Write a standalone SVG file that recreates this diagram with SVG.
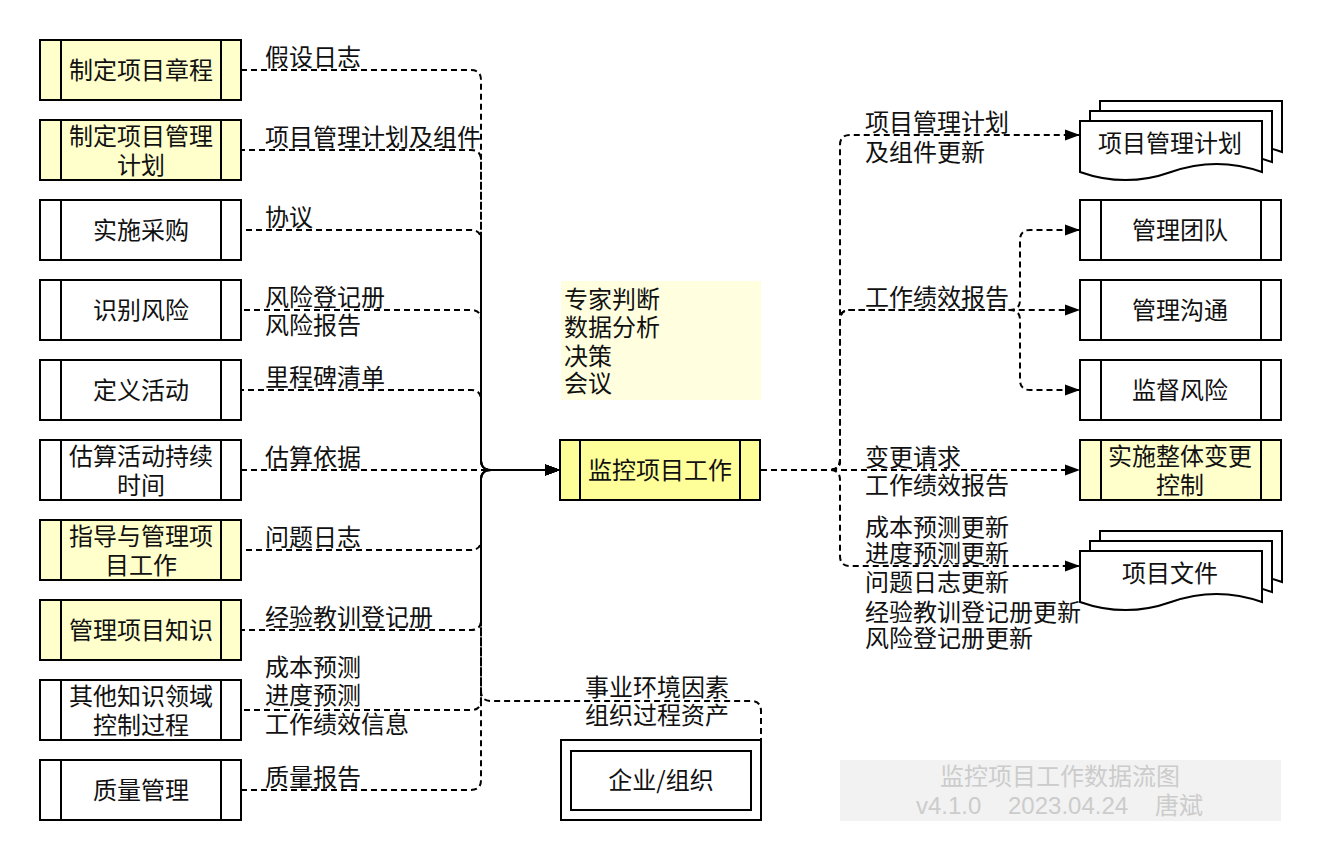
<svg xmlns="http://www.w3.org/2000/svg" width="1322" height="862" viewBox="0 0 1322 862">
<style>
  .box{stroke:#000;stroke-width:2;fill:#fff}
  .y1{fill:#FFFFCC}
  .y2{fill:#FFFF99}
  .ln{stroke:#000;stroke-width:2;fill:none}
  .c{stroke:#000;stroke-width:2;fill:none;stroke-dasharray:6 4;marker-end:url(#ar)}
  text{font-family:"Noto Sans CJK SC","Noto Sans",sans-serif;font-size:24px;fill:#111}
  .m{text-anchor:middle}
  .wm{fill:#CCCCCC;font-family:"Liberation Sans","Noto Sans CJK SC",sans-serif}
</style>
<defs>
  <marker id="ar" markerWidth="16" markerHeight="12" refX="15" refY="6" orient="auto" markerUnits="userSpaceOnUse">
    <path d="M0,0.5 L15,6 L0,11.5 Z" fill="#000"/>
  </marker>
</defs>
<rect width="1322" height="862" fill="#fff"/>

<g id="connectors">
  <path class="c" d="M241,70 H471 Q481,70 481,80 V460 Q481,470 491,470 H560"/>
  <path class="c" style="stroke-dashoffset:2" d="M241,150 H471 Q481,150 481,160 V460 Q481,470 491,470 H560"/>
  <path class="c" style="stroke-dashoffset:5" d="M241,230 H471 Q481,230 481,240 V460 Q481,470 491,470 H560"/>
  <path class="c" style="stroke-dashoffset:7" d="M241,310 H471 Q481,310 481,320 V460 Q481,470 491,470 H560"/>
  <path class="c" style="stroke-dashoffset:3" d="M241,390 H471 Q481,390 481,400 V460 Q481,470 491,470 H560"/>
  <path class="c" d="M241,470 H560"/>
  <path class="c" style="stroke-dashoffset:5" d="M241,550 H471 Q481,550 481,540 V480 Q481,470 491,470 H560"/>
  <path class="c" style="stroke-dashoffset:2" d="M241,630 H471 Q481,630 481,620 V480 Q481,470 491,470 H560"/>
  <path class="c" style="stroke-dashoffset:7" d="M241,710 H471 Q481,710 481,700 V480 Q481,470 491,470 H560"/>
  <path class="c" d="M241,790 H471 Q481,790 481,780 V480 Q481,470 491,470 H560"/>
  <path class="c" style="stroke-dashoffset:4" d="M761,740 V711 Q761,701 751,701 H491 Q481,701 481,691 V480 Q481,470 491,470 H560"/>
  <path class="c" d="M761,470 H830 Q840,470 840,460 V145 Q840,135 850,135 H1080"/>
  <path class="c" d="M761,470 H830 Q840,470 840,460 V320 Q840,310 850,310 H1010 Q1020,310 1020,300 V240 Q1020,230 1030,230 H1080"/>
  <path class="c" d="M761,470 H830 Q840,470 840,460 V320 Q840,310 850,310 H1080"/>
  <path class="c" d="M761,470 H830 Q840,470 840,460 V320 Q840,310 850,310 H1010 Q1020,310 1020,320 V380 Q1020,390 1030,390 H1080"/>
  <path class="c" d="M761,470 H1080"/>
  <path class="c" d="M761,470 H830 Q840,470 840,480 V556 Q840,566 850,566 H1080"/>
</g>

<g id="edge-labels">
  <text x="265" y="66">假设日志</text>
  <text x="265" y="146">项目管理计划及组件</text>
  <text x="265" y="226">协议</text>
  <text x="265" y="306">风险登记册</text>
  <text x="265" y="334">风险报告</text>
  <text x="265" y="386">里程碑清单</text>
  <text x="265" y="466">估算依据</text>
  <text x="265" y="546">问题日志</text>
  <text x="265" y="626">经验教训登记册</text>
  <text x="265" y="676">成本预测</text>
  <text x="265" y="704">进度预测</text>
  <text x="265" y="733">工作绩效信息</text>
  <text x="265" y="786">质量报告</text>
  <text x="585" y="696">事业环境因素</text>
  <text x="585" y="724">组织过程资产</text>
  <text x="865" y="131">项目管理计划</text>
  <text x="865" y="161">及组件更新</text>
  <text x="865" y="306">工作绩效报告</text>
  <text x="865" y="466">变更请求</text>
  <text x="865" y="494">工作绩效报告</text>
  <text x="865" y="536">成本预测更新</text>
  <text x="865" y="562">进度预测更新</text>
  <text x="865" y="591">问题日志更新</text>
  <text x="865" y="621">经验教训登记册更新</text>
  <text x="865" y="647">风险登记册更新</text>
</g>

<g id="n-zhiding-zhangcheng">
  <rect class="box y1" x="40" y="40" width="201" height="60"/>
  <path class="ln" d="M61,40 V100 M221,40 V100"/>
  <text class="m" x="141" y="79">制定项目章程</text>
</g>
<g id="n-zhiding-jihua">
  <rect class="box y1" x="40" y="120" width="201" height="60"/>
  <path class="ln" d="M61,120 V180 M221,120 V180"/>
  <text class="m" x="141" y="145">制定项目管理</text>
  <text class="m" x="141" y="174">计划</text>
</g>
<g id="n-caigou">
  <rect class="box" x="40" y="200" width="201" height="60"/>
  <path class="ln" d="M61,200 V260 M221,200 V260"/>
  <text class="m" x="141" y="239">实施采购</text>
</g>
<g id="n-fengxian">
  <rect class="box" x="40" y="280" width="201" height="60"/>
  <path class="ln" d="M61,280 V340 M221,280 V340"/>
  <text class="m" x="141" y="319">识别风险</text>
</g>
<g id="n-huodong">
  <rect class="box" x="40" y="360" width="201" height="60"/>
  <path class="ln" d="M61,360 V420 M221,360 V420"/>
  <text class="m" x="141" y="399">定义活动</text>
</g>
<g id="n-gusuan">
  <rect class="box" x="40" y="440" width="201" height="60"/>
  <path class="ln" d="M61,440 V500 M221,440 V500"/>
  <text class="m" x="141" y="465">估算活动持续</text>
  <text class="m" x="141" y="494">时间</text>
</g>
<g id="n-zhidao">
  <rect class="box y1" x="40" y="520" width="201" height="60"/>
  <path class="ln" d="M61,520 V580 M221,520 V580"/>
  <text class="m" x="141" y="545">指导与管理项</text>
  <text class="m" x="141" y="574">目工作</text>
</g>
<g id="n-zhishi">
  <rect class="box y1" x="40" y="600" width="201" height="60"/>
  <path class="ln" d="M61,600 V660 M221,600 V660"/>
  <text class="m" x="141" y="639">管理项目知识</text>
</g>
<g id="n-qita">
  <rect class="box" x="40" y="680" width="201" height="60"/>
  <path class="ln" d="M61,680 V740 M221,680 V740"/>
  <text class="m" x="141" y="705">其他知识领域</text>
  <text class="m" x="141" y="734">控制过程</text>
</g>
<g id="n-zhiliang">
  <rect class="box" x="40" y="760" width="201" height="60"/>
  <path class="ln" d="M61,760 V820 M221,760 V820"/>
  <text class="m" x="141" y="799">质量管理</text>
</g>

<g id="tools">
  <rect x="561" y="281" width="200" height="119" fill="#FFFFE0"/>
  <text x="564" y="308">专家判断</text>
  <text x="564" y="336">数据分析</text>
  <text x="564" y="365">决策</text>
  <text x="564" y="392">会议</text>
</g>

<g id="n-jiankong">
  <rect class="box y2" x="560" y="440" width="200" height="60"/>
  <path class="ln" d="M580,440 V500 M740,440 V500"/>
  <text class="m" x="660" y="479">监控项目工作</text>
</g>

<g id="n-qiye">
  <rect class="box" x="561" y="740" width="200" height="80"/>
  <rect class="box" x="571" y="751" width="180" height="59"/>
  <text class="m" x="661" y="789">企业/组织</text>
</g>

<g id="n-jihua-doc">
  <path class="box" d="M1100,101 H1282 V152 Q1236.5,135.8 1191,152 T1100,152 Z"/>
  <path class="box" d="M1090,111 H1272 V162 Q1226.5,145.8 1181,162 T1090,162 Z"/>
  <path class="box" d="M1080,121 H1262 V172 Q1216.5,155.8 1171,172 T1080,172 Z"/>
  <text class="m" x="1170" y="152">项目管理计划</text>
</g>

<g id="n-tuandui">
  <rect class="box" x="1080" y="200" width="201" height="60"/>
  <path class="ln" d="M1101,200 V260 M1261,200 V260"/>
  <text class="m" x="1180" y="239">管理团队</text>
</g>
<g id="n-goutong">
  <rect class="box" x="1080" y="280" width="201" height="60"/>
  <path class="ln" d="M1101,280 V340 M1261,280 V340"/>
  <text class="m" x="1180" y="319">管理沟通</text>
</g>
<g id="n-jiandu">
  <rect class="box" x="1080" y="360" width="201" height="60"/>
  <path class="ln" d="M1101,360 V420 M1261,360 V420"/>
  <text class="m" x="1180" y="399">监督风险</text>
</g>
<g id="n-biangeng">
  <rect class="box y1" x="1080" y="440" width="201" height="60"/>
  <path class="ln" d="M1101,440 V500 M1261,440 V500"/>
  <text class="m" x="1180" y="465">实施整体变更</text>
  <text class="m" x="1180" y="494">控制</text>
</g>

<g id="n-wenjian-doc">
  <path class="box" d="M1100,531 H1282 V582 Q1236.5,565.8 1191,582 T1100,582 Z"/>
  <path class="box" d="M1090,541 H1272 V592 Q1226.5,575.8 1181,592 T1090,592 Z"/>
  <path class="box" d="M1080,551 H1262 V602 Q1216.5,585.8 1171,602 T1080,602 Z"/>
  <text class="m" x="1170" y="582">项目文件</text>
</g>

<g id="watermark">
  <rect x="840" y="760" width="441" height="61" fill="#F2F2F2"/>
  <text class="m wm" x="1060" y="785">监控项目工作数据流图</text>
  <text class="wm" x="916" y="814">v4.1.0</text>
  <text class="wm" x="1008" y="814">2023.04.24</text>
  <text class="wm" x="1155" y="814">唐斌</text>
</g>
</svg>
